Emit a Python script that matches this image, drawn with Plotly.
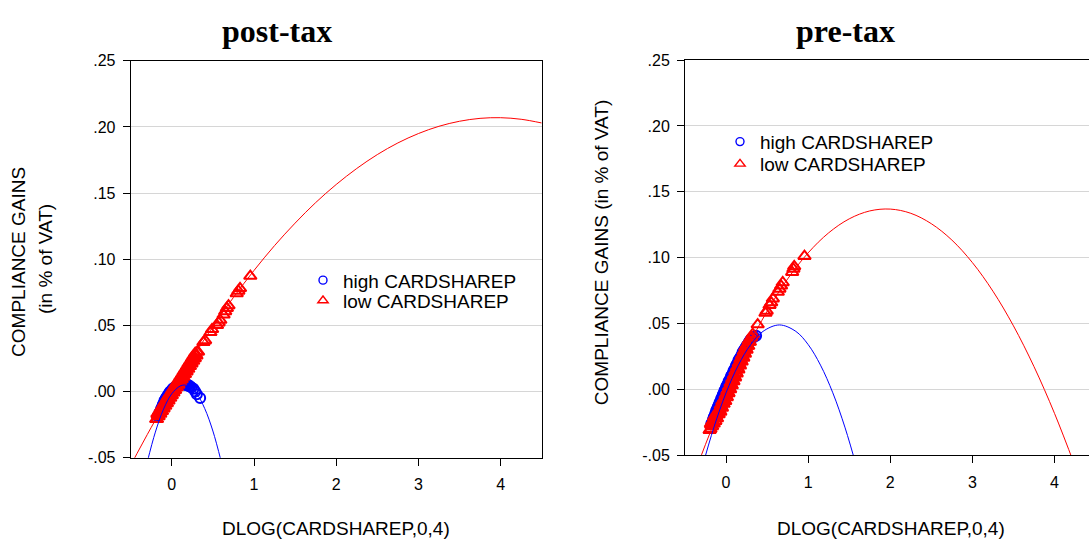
import plotly.graph_objects as go

# ---------------- post-tax panel ----------------
post_high_x = [-0.17, -0.16, -0.15, -0.14, -0.13, -0.12, -0.11, -0.10, -0.09, -0.08,
               -0.07, -0.06, -0.05, -0.04, -0.03, -0.02, -0.01, 0.00, 0.01, 0.02,
               0.03, 0.04, 0.05, 0.06, 0.07, 0.08, 0.09, 0.10, 0.11, 0.12,
               0.13, 0.14, 0.15, 0.16, 0.17, 0.18, 0.19, 0.20, 0.21, 0.223,
               0.24, 0.264, 0.285, 0.305, 0.345]
post_high_y = [-0.019, -0.018, -0.016, -0.015, -0.013, -0.012, -0.010, -0.009, -0.007, -0.006,
               -0.005, -0.004, -0.003, -0.002, -0.001, 0.000, 0.000, 0.001, 0.002, 0.002,
               0.003, 0.003, 0.004, 0.004, 0.004, 0.005, 0.005, 0.005, 0.005, 0.006,
               0.006, 0.006, 0.006, 0.006, 0.005, 0.005, 0.005, 0.005, 0.004, 0.004,
               0.003, 0.002, 0.000, -0.002, -0.005]

post_low_x = [-0.19, -0.18, -0.175, -0.17, -0.16, -0.155, -0.15, -0.14, -0.135, -0.13,
              -0.12, -0.115, -0.11, -0.10, -0.095, -0.09, -0.08, -0.075, -0.07, -0.06,
              -0.055, -0.05, -0.045, -0.04, -0.035, -0.03, -0.02, -0.015, -0.01, 0.00,
              0.005, 0.01, 0.02, 0.025, 0.03, 0.04, 0.045, 0.05, 0.06, 0.065,
              0.07, 0.08, 0.085, 0.09, 0.10, 0.105, 0.11, 0.12, 0.125, 0.13,
              0.14, 0.145, 0.15, 0.16, 0.165, 0.17, 0.18, 0.185, 0.19, 0.20,
              0.205, 0.21, 0.22, 0.225, 0.23, 0.24, 0.245, 0.25, 0.26, 0.265,
              0.27, 0.28, 0.285, 0.29, 0.30, 0.31, 0.32, 0.385, 0.405, 0.47,
              0.49, 0.55, 0.57, 0.59, 0.63, 0.65, 0.67, 0.69, 0.79, 0.81,
              0.83, 0.955]
post_low_y = [-0.021, -0.021, -0.017, -0.018, -0.019, -0.015, -0.016, -0.017, -0.013, -0.014,
              -0.015, -0.011, -0.012, -0.013, -0.009, -0.010, -0.011, -0.007, -0.008, -0.009,
              -0.005, -0.006, -0.004, -0.007, -0.003, -0.004, -0.005, -0.001, -0.002, -0.003,
              0.001, 0.000, -0.001, 0.003, 0.002, 0.001, 0.005, 0.004, 0.003, 0.007,
              0.006, 0.005, 0.009, 0.008, 0.007, 0.011, 0.010, 0.009, 0.013, 0.012,
              0.011, 0.015, 0.014, 0.013, 0.017, 0.016, 0.015, 0.019, 0.018, 0.017,
              0.021, 0.020, 0.019, 0.023, 0.022, 0.021, 0.025, 0.024, 0.023, 0.027,
              0.026, 0.025, 0.029, 0.028, 0.027, 0.030, 0.030, 0.0373, 0.0386, 0.0447,
              0.047, 0.050, 0.052, 0.054, 0.058, 0.0605, 0.063, 0.065, 0.074, 0.076,
              0.078, 0.0873]

# fitted quadratic curves, post-tax
post_low_fit_x = [-0.5, -0.25, 0.0, 0.25, 0.5, 0.75, 1.0, 1.25, 1.5, 1.75, 2.0,
                  2.25, 2.5, 2.75, 3.0, 3.25, 3.5, 3.75, 4.0, 4.25, 4.5]
post_low_fit_y = [-0.0558, -0.0271, 0.0000, 0.0253, 0.0491, 0.0711, 0.0915, 0.1103, 0.1273,
                  0.1428, 0.1565, 0.1686, 0.1791, 0.1879, 0.1950, 0.2005, 0.2043, 0.2065,
                  0.2070, 0.2058, 0.2030]
post_high_fit_x = [-0.3, -0.2, -0.1, 0.0, 0.1, 0.15, 0.2, 0.3, 0.4, 0.5, 0.6]
post_high_fit_y = [-0.0537, -0.0307, -0.0133, -0.0017, 0.0041, 0.0049, 0.0042, -0.0014,
                   -0.0128, -0.0299, -0.0527]

# ---------------- pre-tax panel ----------------
pre_high_x = [-0.18, -0.17, -0.16, -0.15, -0.14, -0.13, -0.12, -0.11, -0.10, -0.09,
              -0.08, -0.07, -0.06, -0.05, -0.04, -0.03, -0.02, -0.01, 0.00, 0.01,
              0.02, 0.03, 0.04, 0.05, 0.06, 0.07, 0.08, 0.09, 0.10, 0.11,
              0.12, 0.13, 0.14, 0.15, 0.16, 0.17, 0.18, 0.19, 0.20, 0.21,
              0.22, 0.23, 0.24, 0.25, 0.26, 0.27, 0.28, 0.29, 0.30, 0.32,
              0.34, 0.366]
pre_high_y = [-0.026, -0.025, -0.023, -0.021, -0.020, -0.018, -0.016, -0.015, -0.013, -0.012,
              -0.010, -0.009, -0.007, -0.006, -0.004, -0.003, -0.001, 0.000, 0.002, 0.003,
              0.004, 0.006, 0.007, 0.008, 0.010, 0.011, 0.012, 0.014, 0.015, 0.016,
              0.018, 0.019, 0.020, 0.022, 0.023, 0.024, 0.025, 0.026, 0.028, 0.029,
              0.030, 0.031, 0.032, 0.033, 0.034, 0.035, 0.036, 0.037, 0.038, 0.039,
              0.040, 0.0407]

pre_low_x = [-0.20, -0.19, -0.185, -0.18, -0.17, -0.165, -0.16, -0.15, -0.145, -0.14,
             -0.13, -0.125, -0.12, -0.11, -0.105, -0.10, -0.09, -0.085, -0.08, -0.07,
             -0.065, -0.06, -0.05, -0.045, -0.04, -0.03, -0.025, -0.02, -0.01, -0.005,
             0.00, 0.01, 0.015, 0.02, 0.03, 0.035, 0.04, 0.05, 0.055, 0.06,
             0.07, 0.075, 0.08, 0.09, 0.095, 0.10, 0.11, 0.115, 0.12, 0.13,
             0.135, 0.14, 0.15, 0.155, 0.16, 0.17, 0.175, 0.18, 0.19, 0.195,
             0.20, 0.21, 0.215, 0.22, 0.23, 0.235, 0.24, 0.25, 0.255, 0.26,
             0.27, 0.275, 0.28, 0.29, 0.30, 0.31, 0.325, 0.385, 0.48, 0.495,
             0.53, 0.55, 0.57, 0.63, 0.65, 0.67, 0.69, 0.805, 0.82, 0.83,
             0.955]
pre_low_y = [-0.031, -0.030, -0.026, -0.027, -0.028, -0.024, -0.025, -0.026, -0.021, -0.022,
             -0.024, -0.019, -0.020, -0.022, -0.017, -0.018, -0.019, -0.015, -0.016, -0.017,
             -0.012, -0.013, -0.014, -0.009, -0.010, -0.011, -0.007, -0.008, -0.009, -0.004,
             -0.005, -0.006, -0.001, -0.002, -0.003, 0.002, 0.001, 0.000, 0.005, 0.004,
             0.003, 0.008, 0.007, 0.006, 0.011, 0.010, 0.009, 0.014, 0.013, 0.012,
             0.017, 0.016, 0.015, 0.020, 0.019, 0.018, 0.023, 0.022, 0.021, 0.026,
             0.025, 0.024, 0.029, 0.028, 0.027, 0.032, 0.031, 0.030, 0.034, 0.033,
             0.033, 0.037, 0.036, 0.036, 0.039, 0.040, 0.042, 0.0493, 0.058, 0.0596,
             0.064, 0.066, 0.0689, 0.0739, 0.0763, 0.0787, 0.0812, 0.089, 0.0915, 0.0934,
             0.1012]

# fitted quadratic curves, pre-tax
pre_low_fit_x = [-0.35, -0.25, 0.0, 0.25, 0.5, 0.75, 1.0, 1.25, 1.5, 1.75, 2.0,
                 2.25, 2.5, 2.75, 3.0, 3.25, 3.5, 3.75, 4.0, 4.25]
pre_low_fit_y = [-0.0582, -0.0416, -0.0033, 0.0304, 0.0594, 0.0839, 0.1037, 0.1189, 0.1295,
                 0.1355, 0.1369, 0.1337, 0.1258, 0.1134, 0.0963, 0.0746, 0.0483, 0.0174,
                 -0.0181, -0.0582]
pre_high_fit_x = [-0.3, -0.15, 0.0, 0.15, 0.3, 0.45, 0.65, 0.85, 1.0, 1.15, 1.3, 1.45, 1.6]
pre_high_fit_y = [-0.0611, -0.0291, -0.0025, 0.0185, 0.0341, 0.0441, 0.0490, 0.0441,
                  0.0341, 0.0185, -0.0025, -0.0291, -0.0611]

# axis ticks
y_tickvals = [-0.05, 0.0, 0.05, 0.10, 0.15, 0.20, 0.25]
y_ticktext = ["-.05", ".00", ".05", ".10", ".15", ".20", ".25"]
x_tickvals = [0, 1, 2, 3, 4]
x_ticktext = ["0", "1", "2", "3", "4"]

BLUE = "#0000ff"
RED = "#ff0000"
SANS = "Liberation Sans, Arial, sans-serif"
SERIF = "Liberation Serif, Times New Roman, serif"
W, H = 1089, 549

fig = go.Figure()


def add_panel(xa, ya, hx, hy, lx, ly, lfx, lfy, hfx, hfy, leg_hi, leg_lo):
    fig.add_trace(go.Scatter(
        x=hx, y=hy, mode="markers", name="high CARDSHAREP", showlegend=False,
        xaxis=xa, yaxis=ya,
        marker=dict(symbol="circle-open", size=10, color=BLUE,
                    line=dict(color=BLUE, width=2))))
    fig.add_trace(go.Scatter(
        x=lx, y=ly, mode="markers", name="low CARDSHAREP", showlegend=False,
        xaxis=xa, yaxis=ya,
        marker=dict(symbol="triangle-up-open", size=11, color=RED,
                    line=dict(color=RED, width=2))))
    fig.add_trace(go.Scatter(
        x=lfx, y=lfy, mode="lines", showlegend=False, xaxis=xa, yaxis=ya,
        line=dict(color=RED, width=1, shape="spline"), hoverinfo="skip"))
    fig.add_trace(go.Scatter(
        x=hfx, y=hfy, mode="lines", showlegend=False, xaxis=xa, yaxis=ya,
        line=dict(color=BLUE, width=1, shape="spline"), hoverinfo="skip"))
    # legend keys with the smaller symbols used in the key
    fig.add_trace(go.Scatter(
        x=[None], y=[None], mode="markers", name="high CARDSHAREP",
        xaxis=xa, yaxis=ya, legend=leg_hi, hoverinfo="skip",
        marker=dict(symbol="circle-open", size=8, color=BLUE,
                    line=dict(color=BLUE, width=1.4))))
    fig.add_trace(go.Scatter(
        x=[None], y=[None], mode="markers", name="low CARDSHAREP",
        xaxis=xa, yaxis=ya, legend=leg_lo, hoverinfo="skip",
        marker=dict(symbol="triangle-up-open", size=9, color=RED,
                    line=dict(color=RED, width=1.4))))


add_panel("x", "y", post_high_x, post_high_y, post_low_x, post_low_y,
          post_low_fit_x, post_low_fit_y, post_high_fit_x, post_high_fit_y,
          "legend", "legend2")
add_panel("x2", "y2", pre_high_x, pre_high_y, pre_low_x, pre_low_y,
          pre_low_fit_x, pre_low_fit_y, pre_high_fit_x, pre_high_fit_y,
          "legend3", "legend4")


def px_x(p):
    return p / W


def px_y(p):
    return 1 - p / H


xaxis_common = dict(
    tickvals=x_tickvals, ticktext=x_ticktext, ticks="outside", ticklen=7,
    tickcolor="#000000", tickwidth=1, showline=True, linecolor="#000000",
    linewidth=1, mirror=True, showgrid=False, zeroline=False,
    tickfont=dict(family=SANS, size=16, color="#000000"), ticklabelstandoff=5)
yaxis_common = dict(
    range=[-0.05, 0.25], tickvals=y_tickvals, ticktext=y_ticktext,
    ticks="outside", ticklen=7, tickcolor="#000000", tickwidth=1,
    showline=True, linecolor="#000000", linewidth=1, showgrid=True,
    gridcolor="#d6d6d6", gridwidth=1, zeroline=False,
    tickfont=dict(family=SANS, size=16, color="#000000"), ticklabelstandoff=4)

legend_common = dict(
    bgcolor="rgba(0,0,0,0)", borderwidth=0, xanchor="left", yanchor="middle",
    font=dict(family=SANS, size=19, color="#000000"))

fig.update_layout(
    width=W, height=H, margin=dict(l=0, r=0, t=0, b=0),
    paper_bgcolor="#ffffff", plot_bgcolor="#ffffff",
    xaxis=dict(domain=[px_x(130.7), px_x(541.7)], range=[-0.5, 4.5],
               anchor="y", **xaxis_common),
    yaxis=dict(domain=[px_y(464), px_y(54.5)], anchor="x", **yaxis_common),
    xaxis2=dict(domain=[px_x(685), 1.0], range=[-0.5, 4.42],
                anchor="y2", **xaxis_common),
    yaxis2=dict(domain=[px_y(461.7), px_y(53.7)], anchor="x2",
                **{**yaxis_common, "mirror": False}),
    legend=dict(x=px_x(303), y=px_y(281), **legend_common),
    legend2=dict(x=px_x(303), y=px_y(302), **legend_common),
    legend3=dict(x=px_x(720), y=px_y(138), **legend_common),
    legend4=dict(x=px_x(720), y=px_y(161), **legend_common),
    showlegend=True,
)
# the left panel keeps a full frame
fig.update_layout(yaxis_mirror=True)

title_font = dict(family=SERIF, size=32, color="#000000")
label_font = dict(family=SANS, size=19, color="#000000")
annotations = [
    dict(text="<b>post-tax</b>", x=px_x(277), y=px_y(24), font=title_font),
    dict(text="<b>pre-tax</b>", x=px_x(845), y=px_y(24), font=title_font),
    dict(text="DLOG(CARDSHAREP,0,4)", x=px_x(336), y=px_y(537), font=label_font),
    dict(text="DLOG(CARDSHAREP,0,4)", x=px_x(891), y=px_y(537), font=label_font),
    dict(text="COMPLIANCE GAINS", x=px_x(19), y=px_y(262), font=label_font,
         textangle=-90),
    dict(text="(in % of VAT)", x=px_x(46), y=px_y(259), font=label_font,
         textangle=-90),
    dict(text="COMPLIANCE GAINS (in % of VAT)", x=px_x(601), y=px_y(253),
         font=label_font, textangle=-90),
]
for a in annotations:
    a.update(xref="paper", yref="paper", showarrow=False,
             xanchor="center", yanchor="middle")
fig.update_layout(annotations=annotations)

fig.write_html("out.html")
